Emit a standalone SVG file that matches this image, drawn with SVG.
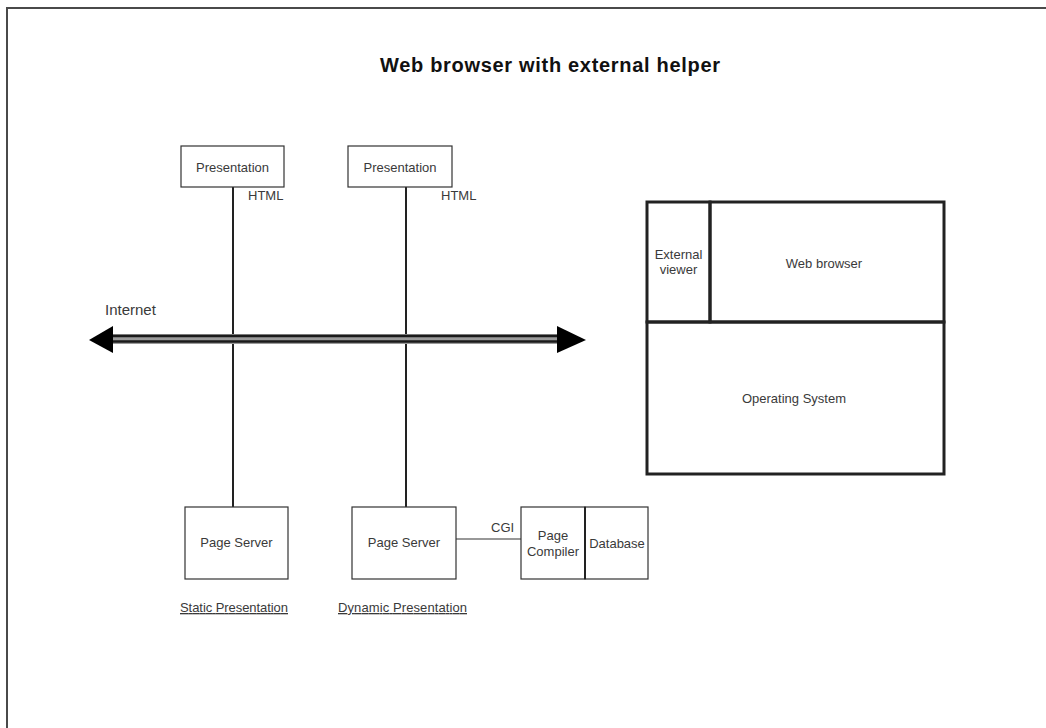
<svg xmlns="http://www.w3.org/2000/svg" width="1046" height="728" viewBox="0 0 1046 728">
  <style>
    .box { fill: #ffffff; stroke: #333333; stroke-width: 1.2; }
    .heavy { fill: none; stroke: #222222; stroke-width: 3; }
    .link { stroke: #222222; stroke-width: 2; fill: none; }
    .thin { stroke: #333333; stroke-width: 1.2; fill: none; }
    .lbl { font-family: "Liberation Sans", Arial, sans-serif; font-size: 13px; fill: #3a3a3a; }
    .mid { text-anchor: middle; }
    .title { font-family: "Liberation Sans", Arial, sans-serif; font-size: 20px; font-weight: bold; fill: #111111; }
  </style>

  <rect width="1046" height="728" fill="#ffffff"/>

  <!-- page frame (top and left edges) -->
  <path d="M7 728 V8 H1046" fill="none" stroke="#4a4a4a" stroke-width="2"/>

  <text class="title" x="380" y="72" textLength="340">Web browser with external helper</text>

  <!-- connectors -->
  <g id="connectors">
    <line class="link" x1="233" y1="187" x2="233" y2="507"/>
    <line class="link" x1="406" y1="187" x2="406" y2="507"/>
    <line class="thin" x1="456" y1="539" x2="521" y2="539"/>
    <text class="lbl" x="248" y="200">HTML</text>
    <text class="lbl" x="441" y="200">HTML</text>
    <text class="lbl" x="491" y="532">CGI</text>
  </g>

  <!-- Internet: double-headed bus -->
  <g id="internet">
    <rect x="110" y="334" width="450" height="10" fill="#9a9a9a"/>
    <line x1="110" y1="336" x2="560" y2="336" stroke="#1a1a1a" stroke-width="2.5"/>
    <line x1="110" y1="341.5" x2="560" y2="341.5" stroke="#1a1a1a" stroke-width="2.5"/>
    <polygon points="89,340 113,326 113,353" fill="#000000"/>
    <polygon points="586,340 557,326 557,353" fill="#000000"/>
    <text class="lbl" x="105" y="315" style="font-size:15px">Internet</text>
  </g>

  <g id="presentation-static">
    <rect class="box" x="181" y="146" width="103" height="41"/>
    <text class="lbl mid" x="232.5" y="172">Presentation</text>
  </g>
  <g id="presentation-dynamic">
    <rect class="box" x="348" y="146" width="104" height="41"/>
    <text class="lbl mid" x="400" y="172">Presentation</text>
  </g>

  <g id="page-server-static">
    <rect class="box" x="185" y="507" width="103" height="72"/>
    <text class="lbl mid" x="236.5" y="547">Page Server</text>
  </g>
  <g id="page-server-dynamic">
    <rect class="box" x="352" y="507" width="104" height="72"/>
    <text class="lbl mid" x="404" y="547">Page Server</text>
  </g>

  <g id="page-compiler">
    <rect class="box" x="521" y="507" width="64" height="72"/>
    <text class="lbl mid" x="553" y="540">Page</text>
    <text class="lbl mid" x="553" y="556">Compiler</text>
  </g>
  <g id="database">
    <rect class="box" x="585" y="507" width="63" height="72"/>
    <line x1="585" y1="507" x2="585" y2="579" stroke="#222222" stroke-width="2"/>
    <text class="lbl mid" x="617" y="548">Database</text>
  </g>

  <g id="captions">
    <text class="lbl" x="180" y="612" text-decoration="underline" textLength="108">Static Presentation</text>
    <text class="lbl" x="338" y="612" text-decoration="underline" textLength="129">Dynamic Presentation</text>
  </g>

  <!-- client stack -->
  <g id="operating-system">
    <rect class="heavy" x="647" y="322" width="297" height="152"/>
    <text class="lbl mid" x="794" y="403">Operating System</text>
  </g>
  <g id="external-viewer">
    <rect class="heavy" x="647" y="202" width="63" height="120"/>
    <text class="lbl mid" x="678.5" y="259">External</text>
    <text class="lbl mid" x="678.5" y="274">viewer</text>
  </g>
  <g id="web-browser">
    <rect class="heavy" x="710" y="202" width="234" height="120"/>
    <text class="lbl mid" x="824" y="268">Web browser</text>
  </g>
</svg>
